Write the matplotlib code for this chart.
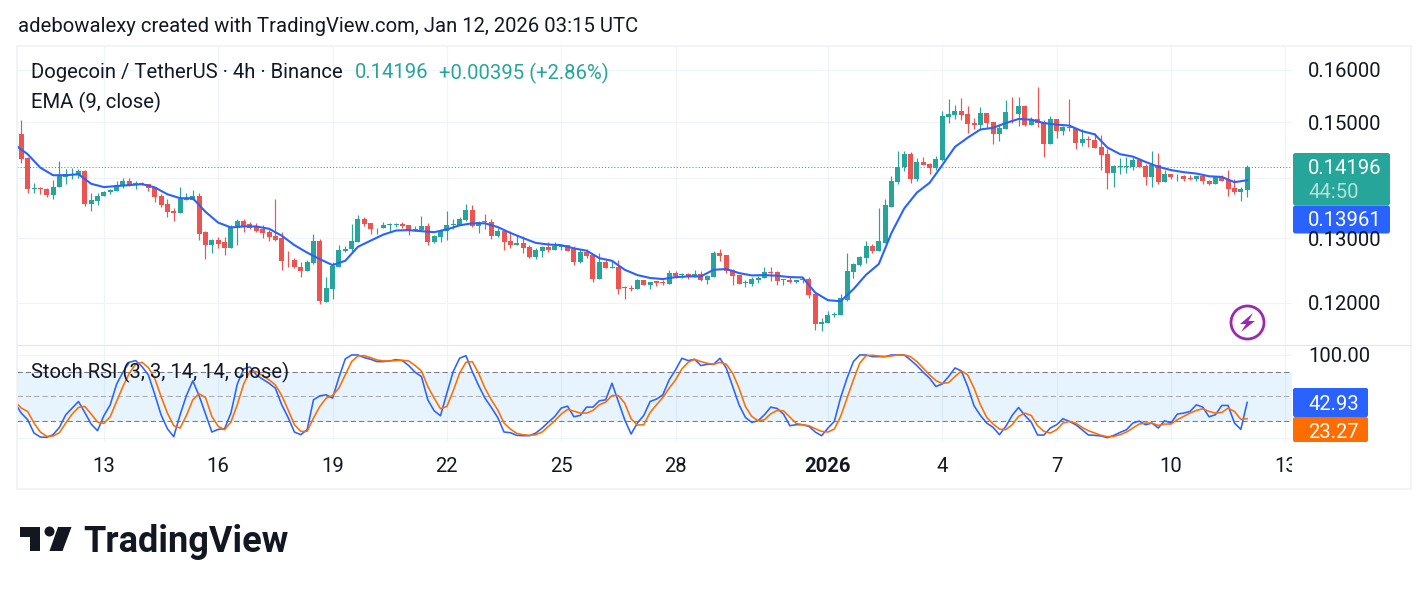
import math
import matplotlib
matplotlib.use('Agg')
import matplotlib.pyplot as plt
import matplotlib.dates as mdates
from matplotlib.patches import Rectangle, FancyBboxPatch, Polygon, Circle
import pandas as pd

plt.rcParams['font.family'] = ['Roboto', 'DejaVu Sans']

# DOGE/USDT 4h candles
opens = [
    .14774, .14346, .13805, .13822, .13805, .13705, .13839, .14024, .14065, .14048,
    .14113, .13555, .13605, .13689, .13755, .13772, .13872, .13956, .13900, .13917,
    .13889, .13844, .13689, .13555, .13439, .13405, .13628, .13628, .13689, .13094,
    .12882, .12974, .12933, .12836, .13161, .13272, .13222, .13189, .13139, .13105,
    .13039, .12994, .12651, .12646, .12549, .12477, .12605, .12959, .12010, .12205,
    .12543, .12790, .12820, .12944, .13306, .13239, .13156, .13156, .13217, .13211,
    .13228, .13206, .13111, .13128, .13189, .12944, .13022, .13111, .13211, .13206,
    .13289, .13456, .13189, .13272, .13256, .13039, .13122, .12959, .12897, .12928,
    .12851, .12697, .12790, .12851, .12805, .12851, .12882, .12820, .12620, .12774,
    .12728, .12359, .12620, .12528, .12543, .12236, .12220, .12205, .12338, .12272,
    .12323, .12318, .12282, .12451, .12420, .12436, .12389, .12436, .12343, .12389,
    .12759, .12728, .12497, .12420, .12292, .12282, .12348, .12374, .12466, .12466,
    .12343, .12343, .12313, .12348, .12359, .12128, .11697, .11712, .11825, .11820,
    .12051, .12466, .12574, .12682, .12867, .12790, .12928, .13516, .13933, .14184,
    .14416, .13989, .14274, .14238, .14167, .14309, .15101, .15139, .15215, .15158,
    .14988, .14952, .15177, .15006, .14774, .14881, .15196, .15158, .15291, .14952,
    .15063, .15006, .14596, .15063, .14827, .14917, .14899, .14613, .14685, .14667,
    .14542, .14417, .14095, .14190, .14190, .14184, .14309, .14202, .14024, .14220,
    .13939, .14077, .14030, .14042, .14006, .13989, .14042, .13956, .13905, .14024,
    .13972, .13822, .13755, .13789,
]
highs = [
    .15042, .14375, .13917, .13850, .13833, .13972, .14292, .14149, .14167, .14149,
    .14137, .13739, .13739, .13783, .13805, .13956, .14000, .14000, .13956, .13928,
    .13900, .13844, .13733, .13639, .13489, .13850, .13739, .13789, .13750, .13122,
    .12985, .13017, .13017, .13211, .13317, .13306, .13267, .13250, .13211, .13133,
    .13639, .13094, .12789, .12677, .12615, .12646, .13072, .12990, .12390, .12615,
    .12897, .12872, .13222, .13373, .13345, .13239, .13167, .13267, .13250, .13245,
    .13256, .13217, .13189, .13356, .13239, .13056, .13150, .13439, .13306, .13345,
    .13556, .13539, .13272, .13389, .13306, .13161, .13122, .13106, .13056, .13028,
    .12887, .12836, .12872, .12944, .12944, .12897, .12887, .12867, .12831, .12820,
    .12743, .12759, .12667, .12631, .12651, .12256, .12267, .12359, .12343, .12318,
    .12333, .12348, .12497, .12482, .12451, .12451, .12497, .12482, .12415, .12790,
    .12821, .12728, .12513, .12420, .12343, .12389, .12405, .12543, .12543, .12482,
    .12359, .12389, .12343, .12389, .12389, .12154, .11774, .11882, .11871, .12128,
    .12759, .12605, .12713, .12959, .12913, .13489, .13639, .14042, .14480, .14476,
    .14452, .14345, .14363, .14256, .14381, .15215, .15424, .15310, .15443, .15291,
    .15082, .15272, .15177, .15006, .14952, .15405, .15462, .15462, .15310, .15101,
    .15670, .15044, .15120, .15063, .14935, .15424, .14899, .14863, .14738, .14792,
    .14756, .14506, .14220, .14345, .14363, .14363, .14327, .14238, .14470, .14434,
    .14131, .14077, .14077, .14060, .14060, .14042, .14060, .13972, .14042, .14060,
    .14137, .13989, .13839, .14220,
]
lows = [
    .14268, .13739, .13750, .13722, .13683, .13639, .13839, .13889, .13989, .14000,
    .13527, .13444, .13544, .13689, .13722, .13772, .13833, .13861, .13805, .13872,
    .13772, .13589, .13516, .13339, .13272, .13405, .13622, .13628, .12974, .12667,
    .12759, .12836, .12728, .12836, .12897, .13105, .13150, .13105, .13006, .12954,
    .12954, .12497, .12538, .12523, .12385, .12477, .12590, .11990, .12010, .12066,
    .12543, .12779, .12800, .12944, .13189, .13072, .13072, .13156, .13122, .13172,
    .13156, .13056, .13111, .13111, .12882, .12918, .12944, .12964, .13139, .13206,
    .13272, .13172, .13089, .13139, .12990, .13022, .12805, .12836, .12897, .12759,
    .12682, .12667, .12697, .12774, .12805, .12805, .12790, .12574, .12605, .12682,
    .12313, .12359, .12528, .12528, .12128, .12066, .12174, .12205, .12266, .12205,
    .12251, .12272, .12282, .12374, .12379, .12359, .12389, .12328, .12282, .12389,
    .12636, .12451, .12266, .12282, .12236, .12251, .12297, .12374, .12328, .12266,
    .12266, .12297, .12297, .12297, .12067, .11605, .11590, .11712, .11789, .11820,
    .12036, .12374, .12559, .12605, .12759, .12790, .12928, .13506, .13905, .14113,
    .13922, .13944, .14220, .14077, .14131, .14298, .14988, .15063, .15044, .14792,
    .14863, .14863, .14899, .14596, .14649, .14863, .14982, .14935, .14935, .14952,
    .14917, .14363, .14596, .14702, .14756, .14827, .14506, .14560, .14542, .14524,
    .14131, .13805, .13839, .14077, .14095, .14131, .14184, .13872, .13839, .13905,
    .13939, .13989, .13956, .13956, .13972, .13956, .13905, .13872, .13889, .13956,
    .13689, .13733, .13605, .13672,
]
closes = [
    .14328, .13811, .13822, .13811, .13705, .13850, .14048, .14077, .14077, .14113,
    .13555, .13622, .13700, .13767, .13789, .13883, .13956, .13878, .13917, .13872,
    .13822, .13672, .13539, .13422, .13405, .13639, .13667, .13689, .13072, .12882,
    .12974, .12913, .12836, .13178, .13272, .13194, .13167, .13122, .13089, .13022,
    .12974, .12636, .12646, .12538, .12477, .12615, .12959, .12026, .12220, .12559,
    .12805, .12831, .12959, .13306, .13222, .13139, .13167, .13206, .13228, .13222,
    .13195, .13111, .13150, .13189, .12944, .13039, .13111, .13206, .13222, .13306,
    .13456, .13189, .13267, .13256, .13039, .13122, .12944, .12897, .12928, .12836,
    .12697, .12805, .12851, .12805, .12867, .12897, .12790, .12620, .12774, .12713,
    .12359, .12620, .12528, .12543, .12205, .12220, .12205, .12338, .12266, .12313,
    .12297, .12297, .12451, .12405, .12431, .12384, .12436, .12343, .12405, .12759,
    .12713, .12482, .12405, .12282, .12313, .12359, .12374, .12466, .12451, .12328,
    .12354, .12313, .12343, .12359, .12113, .11697, .11728, .11820, .11841, .12067,
    .12482, .12590, .12697, .12867, .12790, .12959, .13539, .13956, .14196, .14416,
    .13989, .14274, .14220, .14167, .14327, .15120, .15158, .15215, .15139, .14970,
    .14952, .15177, .14988, .14774, .14899, .15196, .15183, .15291, .14952, .15063,
    .14988, .14596, .15063, .14827, .14917, .14899, .14613, .14685, .14667, .14524,
    .14399, .14095, .14202, .14202, .14202, .14309, .14184, .14024, .14220, .13939,
    .14077, .14024, .14042, .13989, .13989, .14042, .13956, .13889, .14024, .13956,
    .13805, .13755, .13805, .14196,
]

# EMA read every second bar
ema_values = [
    .14584, .14417, .14179, .14048, .14048, .14065, .13900, .13844, .13861, .13878,
    .13894, .13839, .13722, .13655, .13655, .13428, .13250, .13172, .13188, .13188,
    .13150, .13039, .12887, .12769, .12666, .12574, .12641, .12861, .12959, .13056,
    .13122, .13128, .13111, .13095, .13139, .13206, .13239, .13239, .13178, .13083,
    .13000, .12923, .12897, .12887, .12836, .12800, .12682, .12641, .12502, .12420,
    .12376, .12359, .12389, .12400, .12400, .12502, .12513, .12451, .12415, .12420,
    .12410, .12389, .12384, .12154, .12041, .12026, .12205, .12425, .12590, .13083,
    .13483, .13750, .13917, .14225, .14548, .14714, .14863, .14893, .14982, .15057,
    .15044, .14982, .14952, .14935, .14833, .14774, .14536, .14417, .14375, .14280,
    .14196, .14137, .14101, .14077, .14030, .14018, .13928, .13961,
]

stoch_k = [
    42, 30, 22, 6, 1.2, .8, 4, 12.8, 28, 36, 44, 30.8, 16.8, 8.8, 26.8, 40, 64.8, 79.2, 91.2, 93.2,
    86, 76, 52.8, 28, 11.2, 1.6, 28, 51.2, 68.8, 50.8, 28.8, 7.2, 10.4, 11.2, 30, 64.8, 83.2, 85.6, 76, 70.8,
    66, 60, 40, 24.8, 7.2, 4, 10, 46, 50.8, 52, 48, 72.8, 95.2, 100, 100, 96.8, 94.8, 92, 92, 92.8,
    94.4, 93.2, 87.2, 79.2, 74, 46, 32.8, 26.8, 54, 80, 96, 99.2, 80, 63.2, 48, 36.8, 24.8, 7.2, 6.4, 3.2,
    2.8, 2.8, 6, 12, 19.2, 26, 36, 38.4, 25.6, 27.2, 37.2, 37.2, 44.8, 46, 66, 44, 22, 4.8, 18, 27.2,
    44, 46.8, 52, 70, 82, 96, 93.2, 94.8, 87.2, 88.8, 88.8, 96, 84, 62, 40, 24.8, 18.8, 20.8, 28, 37.2,
    35.6, 28.8, 14.8, 16, 16, 14, 7.2, 2.8, 12, 20, 48.8, 72, 92, 100, 100, 98, 98, 98, 100, 100,
    100, 94, 87.2, 79.2, 72, 62, 65.2, 74, 84.4, 80.8, 62, 38.8, 27.2, 18, 12.8, 4, 14, 27.2, 36.8, 27.2,
    19.2, 3.6, 3.6, 12, 16, 23.2, 20, 16, 10, 3.6, 3.2, 2.4, .4, 3.2, 6.8, 10, 18, 20.4, 16, 18,
    12, 20.8, 18, 28.8, 30, 32, 40, 37.2, 25.6, 28, 39.2, 39.2, 18, 10.4, 42.93,
]
stoch_d = [
    44, 36, 32, 18, 7.2, 2, 2.4, 6.4, 18, 28.8, 36.8, 38, 28.8, 19.2, 17.6, 25.6, 44, 62, 78, 88.8,
    91.2, 84.8, 72, 50, 30, 14.8, 12, 27.2, 46, 53.2, 48.8, 26, 14, 10, 19.2, 40, 64.8, 80.8, 80, 74.8,
    70, 64, 51.2, 34, 16, 8, 8, 24, 38, 48, 51.2, 60, 76, 92, 98.8, 99.2, 96.8, 94, 92.8, 92.8,
    93.2, 93.6, 92.8, 87.2, 80.8, 62, 48, 35.2, 38, 56.8, 78, 91.2, 92, 78, 60, 46, 34, 18, 10.8, 5.6,
    4, 3.2, 4, 7.2, 14, 20.8, 28.8, 34.4, 32.4, 30, 30, 33.2, 40, 43.2, 51.2, 51.2, 42, 23.2, 15.6, 16,
    30.8, 40, 48.8, 60, 70, 83.2, 91.2, 94.8, 92, 90, 88.8, 91.2, 88.8, 78, 60, 38, 26, 20.8, 22, 29.2,
    33.2, 32.8, 25.2, 17.6, 16, 14.8, 11.2, 8, 7.2, 10.8, 26, 48, 70, 90, 99.2, 99.6, 98.8, 98, 98.8, 100,
    100, 98, 92, 84, 76, 69.2, 65.6, 66.8, 74, 80.8, 76, 60, 40, 24.8, 16.8, 10.8, 10, 16, 26, 30,
    27.2, 14.8, 8, 6, 10, 18, 20, 18, 12.8, 8.8, 6, 3.2, 1.6, 2, 4, 7.2, 12, 16.8, 18, 18,
    15.2, 16.8, 16.8, 22, 26, 30, 33.2, 35.2, 32, 30, 30.8, 36, 32, 22.4, 23.27,
]

price_ticks = [0.16, 0.15, 0.14, 0.13, 0.12]
price_labels = ['0.16000', '0.15000', '0.14000', '0.13000', '0.12000']
day_ticks = ['2025-12-13', '2025-12-16', '2025-12-19', '2025-12-22', '2025-12-25', '2025-12-28',
             '2026-01-01', '2026-01-04', '2026-01-07', '2026-01-10', '2026-01-13']
day_labels = ['13', '16', '19', '22', '25', '28', '2026', '4', '7', '10', '13']

last_price = closes[-1]
ema_last = ema_values[-1]
k_last = stoch_k[-1]
d_last = stoch_d[-1]

W, H = 1428, 591
GREEN, RED = '#26a69a', '#ef5350'
BLUE, ORANGE = '#2962ff', '#ff6d00'
GRID = '#f0f3fa'
INK = '#131722'

bar_times = pd.date_range('2025-12-10 20:00', periods=len(closes), freq='4h')
line_times = pd.date_range('2025-12-10 16:00', periods=len(stoch_k), freq='4h')
t = mdates.date2num(bar_times)
t_line = mdates.date2num(line_times)
t_ema = t_line[::2]
ticks = mdates.date2num(pd.to_datetime(day_ticks))


def pane(left, top, right, bottom):
    return fig.add_axes([left / W, 1 - bottom / H, (right - left) / W, (bottom - top) / H])


fig = plt.figure(figsize=(W / 100, H / 100), dpi=100, facecolor='white')

# x limits follow from the pixel width of a 4h bar
px_per_day = 38.11
xmin = t[0] - (21.3 - 17) / px_per_day
xmax = t[0] + (1292 - 21.3) / px_per_day

# price pane
ax = pane(17, 46, 1292, 344)
ax.set_yscale('log')
ax.set_xlim(xmin, xmax)
ax.set_ylim(0.11408, 0.16475)
for p in price_ticks:
    ax.axhline(p, color=GRID, lw=0.75, zorder=0)
for d in ticks:
    ax.axvline(d, color=GRID, lw=0.75, zorder=0)
ax.axhline(last_price, color=GREEN, lw=0.75, ls=(0, (1, 2)), zorder=1)

for i in range(len(closes)):
    c = GREEN if closes[i] >= opens[i] else RED
    ax.vlines(t[i], lows[i], highs[i], color=c, lw=0.85, zorder=2)
    lo, hi = min(opens[i], closes[i]), max(opens[i], closes[i])
    ax.bar(t[i], hi - lo, bottom=lo, width=5 / px_per_day, color=c, lw=0, zorder=3)
ax.plot(t_ema, ema_values, color=BLUE, lw=1.5, zorder=4, solid_joinstyle='round')
ax.axis('off')

# stochastic pane
ax2 = pane(17, 345, 1292, 442)
ax2.set_xlim(xmin, xmax)
ax2.set_ylim(-4.8, 112.0)
for d in ticks:
    ax2.axvline(d, color=GRID, lw=0.75, zorder=0)
for lvl in (0, 100):
    ax2.axhline(lvl, color=GRID, lw=0.75, zorder=0)
ax2.axhspan(20, 80, color='#2196f3', alpha=0.1, lw=0, zorder=1)
ax2.axhline(80, color='#787b86', lw=0.75, ls=(0, (5, 3)), zorder=2)
ax2.axhline(50, color='#a9abb3', lw=0.75, ls=(0, (5, 3)), zorder=2)
ax2.axhline(20, color='#787b86', lw=0.75, ls=(0, (5, 3)), zorder=2)
ax2.plot(t_line, stoch_k, color=BLUE, lw=1.15, zorder=3)
ax2.plot(t_line, stoch_d, color=ORANGE, lw=1.15, zorder=4)
ax2.axis('off')

# everything around the panes, laid out in pixels
ov = fig.add_axes([0, 0, 1, 1], zorder=5)
ov.set_xlim(0, W)
ov.set_ylim(H, 0)
ov.axis('off')
ov.patch.set_alpha(0)

ov.add_patch(Rectangle((17, 46), 1394, 442.5, fill=False, ec='#f0f1f4', lw=1.2))
ov.plot([17, 1411], [344.5, 344.5], color='#e0e3eb', lw=0.75)

FS = 14.6


def label(x, y, s, color=INK, size=FS, **kw):
    return ov.text(x, y, s, color=color, fontsize=size, va='center', **kw)


label(18, 27, 'adebowalexy created with TradingView.com, Jan 12, 2026 03:15 UTC')
label(31, 73, 'Dogecoin / TetherUS · 4h · Binance')
label(355, 73, '%.5f' % last_price, color=GREEN)
label(439, 73, '+0.00395 (+2.86%)', color=GREEN)
label(31, 102, 'EMA (9, close)')
label(31, 372, 'Stoch RSI (3, 3, 14, 14, close)')

for s, p in zip(price_labels, price_ticks):
    if p == 0.14:
        continue
    label(1308, 305 - 811 * math.log(p / 0.12), s)
label(1308, 356, '100.00')

# price tags
for y0, h, col in [(153, 52.5, GREEN), (205.5, 28, BLUE)]:
    ov.add_patch(FancyBboxPatch((1293, y0), 97, h, boxstyle='round,pad=0,rounding_size=2.5',
                                fc=col, ec='none'))
label(1308, 169, '%.5f' % last_price, color='white')
label(1308, 193, '44:50', color='#b4e1dc')
label(1308, 221, '%.5f' % ema_last, color='white')
for y0, h, col in [(388, 29, BLUE), (417, 25, ORANGE)]:
    ov.add_patch(FancyBboxPatch((1293, y0), 75, h, boxstyle='round,pad=0,rounding_size=2',
                                fc=col, ec='none'))
label(1308, 404, '%.2f' % k_last, color='white')
label(1308, 433, '%.2f' % d_last, color='white')

# date axis, the last label is cut off at the pane edge
clip = Rectangle((17, 442), 1275, 46, transform=ov.transData)
for d, s in zip(ticks, day_labels):
    x = 21.3 + (d - t[0]) * px_per_day
    tx = ov.text(x, 467, s, color=INK, fontsize=FS, ha='center', va='center',
                 fontweight='bold' if s == '2026' else 'normal')
    tx.set_clip_on(True)
    tx.set_clip_path(clip)

# lightning badge
ov.add_patch(Circle((1247.5, 322.5), 16.5, fill=False, ec='#9c27b0', lw=2))
ov.add_patch(Polygon([(1253, 313), (1240, 324), (1246, 324), (1241, 332), (1255, 321), (1248.5, 321)],
                     fc='#9c27b0', ec='none'))

# TradingView wordmark
ov.add_patch(Polygon([(20, 527), (40, 527), (40, 551), (30, 551), (30, 537), (20, 537)], fc=INK, ec='none'))
ov.add_patch(Circle((49.5, 531.5), 5, fc=INK, ec='none'))
ov.add_patch(Polygon([(58, 527), (71.5, 527), (62.5, 551), (49.5, 551)], fc=INK, ec='none'))
ov.text(83, 542, 'TradingView', color=INK, fontsize=26, fontweight='bold', va='center')

fig.savefig('out.png', dpi=100)
